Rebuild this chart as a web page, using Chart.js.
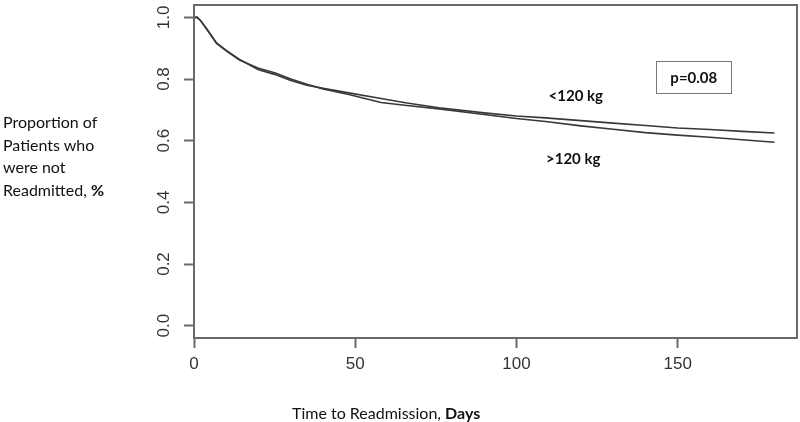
<!DOCTYPE html>
<html>
<head>
<meta charset="utf-8">
<script src="https://cdn.jsdelivr.net/npm/chart.js@4"></script>
<style>
  body { margin: 0; background: #fff; }
  #wrap { position: relative; width: 800px; height: 422px; }
  .title { position: absolute; font-family: Lato, "Open Sans", sans-serif; font-size: 16px; color: #111; }
  #ytitle { left: 3px; top: 111px; line-height: 22.7px; }
  #xtitle { left: 292px; top: 403px; white-space: nowrap; }
</style>
</head>
<body>
<div id="wrap">
  <canvas id="kmChart" width="800" height="422"></canvas>
  <div id="ytitle" class="title">Proportion of<br>Patients who<br>were not<br>Readmitted, <b>%</b></div>
  <div id="xtitle" class="title">Time to Readmission, <b>Days</b></div>
</div>
<script>
// Kaplan-Meier curves
const days = [0, 1, 2, 4, 7, 10, 14, 20, 25, 30, 35, 40, 48, 58, 66, 76, 90, 100, 109, 120, 130, 140, 150, 160, 170, 180];
const under120 = [1.0, 1.0, 0.99, 0.962, 0.917, 0.893, 0.864, 0.83, 0.815, 0.795, 0.78, 0.77, 0.755, 0.737, 0.722, 0.707, 0.69, 0.68, 0.674, 0.665, 0.657, 0.649, 0.641, 0.636, 0.63, 0.625];
const over120 = [1.0, 1.0, 0.99, 0.96, 0.915, 0.891, 0.862, 0.835, 0.82, 0.8, 0.783, 0.768, 0.75, 0.724, 0.714, 0.703, 0.685, 0.672, 0.662, 0.648, 0.637, 0.626, 0.618, 0.611, 0.603, 0.595];
const xTicks = [0, 50, 100, 150];
const yTicks = [0, 0.2, 0.4, 0.6, 0.8, 1.0];

// where the in-plot labels sit (data coordinates)
const labelSpots = [
  {text: '<120 kg', x: 118.4, y: 0.743},
  {text: '>120 kg', x: 117.6, y: 0.541}
];
const pBox = {text: 'p=0.08', x: 155, y: 0.805};

const AXIS_GREY = '#6a6a6a';
const tickFont = {family: '"Liberation Sans", Arial, sans-serif', size: 17};

const toPoints = (xs, ys) => xs.map((d, i) => ({x: d, y: ys[i]}));

// plot frame like R's box()
const framePlugin = {
  id: 'frame',
  afterDraw(chart) {
    const {ctx, chartArea: a} = chart;
    ctx.save();
    ctx.strokeStyle = AXIS_GREY;
    ctx.lineWidth = 2;
    ctx.strokeRect(a.left, a.top, a.right - a.left, a.bottom - a.top);
    ctx.restore();
  }
};

// group labels and the p-value box
const notesPlugin = {
  id: 'notes',
  afterDraw(chart) {
    const {ctx, scales: {x, y}} = chart;
    ctx.save();
    ctx.fillStyle = '#111';
    ctx.font = 'bold 15px Lato, "Open Sans", sans-serif';
    ctx.textAlign = 'center';
    ctx.textBaseline = 'middle';
    labelSpots.forEach(l => {
      ctx.fillText(l.text, x.getPixelForValue(l.x), y.getPixelForValue(l.y));
    });
    const px = x.getPixelForValue(pBox.x);
    const py = y.getPixelForValue(pBox.y);
    ctx.strokeStyle = '#777';
    ctx.lineWidth = 1;
    ctx.strokeRect(Math.round(px - 37.5) + 0.5, Math.round(py - 16) + 0.5, 75, 32);
    ctx.fillText(pBox.text, px, py + 1);
    ctx.restore();
  }
};

const ctx = document.getElementById('kmChart').getContext('2d');
new Chart(ctx, {
  type: 'line',
  data: {
    datasets: [
      {
        label: '<120 kg',
        data: toPoints(days, under120),
        borderColor: '#383838',
        borderWidth: 1.6,
        pointRadius: 0,
        tension: 0
      },
      {
        label: '>120 kg',
        data: toPoints(days, over120),
        borderColor: '#383838',
        borderWidth: 1.6,
        pointRadius: 0,
        tension: 0
      }
    ]
  },
  options: {
    responsive: false,
    animation: false,
    layout: {padding: {left: 0, top: 5, right: 3, bottom: 0}},
    plugins: {legend: {display: false}, tooltip: {enabled: false}},
    scales: {
      x: {
        type: 'linear',
        min: 0,
        max: 187,
        afterBuildTicks: s => { s.ticks = xTicks.map(v => ({value: v})); },
        afterFit: s => { s.height = 84; s.paddingLeft = 0; s.paddingRight = 0; },
        grid: {drawOnChartArea: false, tickLength: 10, tickColor: AXIS_GREY, tickWidth: 2},
        border: {color: AXIS_GREY, width: 2},
        ticks: {font: tickFont, color: '#333', padding: 6, maxRotation: 0}
      },
      y: {
        min: -0.04,
        max: 1.04,
        afterBuildTicks: s => { s.ticks = yTicks.map(v => ({value: v})); },
        afterFit: s => { s.width = 194; s.paddingTop = 0; s.paddingBottom = 0; },
        grid: {drawOnChartArea: false, tickLength: 10, tickColor: AXIS_GREY, tickWidth: 2},
        border: {color: AXIS_GREY, width: 2},
        ticks: {
          font: tickFont,
          color: '#333',
          padding: 8,
          minRotation: 90,
          maxRotation: 90,
          crossAlign: 'center',
          callback: v => v.toFixed(1)
        }
      }
    }
  },
  plugins: [framePlugin, notesPlugin]
});
</script>
</body>
</html>
